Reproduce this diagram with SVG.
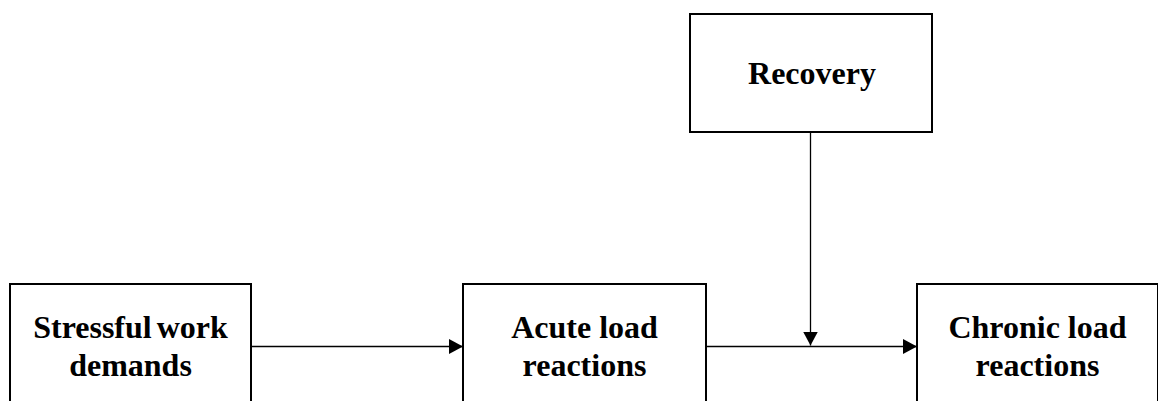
<svg xmlns="http://www.w3.org/2000/svg" width="1158" height="401" viewBox="0 0 1158 401">
  <style>
    .box { fill: #ffffff; stroke: #000000; stroke-width: 2; }
    .label { font-family: "Liberation Serif", "Times New Roman", serif; font-weight: bold; font-size: 32px; fill: #000000; text-anchor: middle; }
    .link { stroke: #000000; stroke-width: 1.3; fill: none; marker-end: url(#head); }
  </style>
  <defs>
    <marker id="head" markerUnits="userSpaceOnUse" markerWidth="16" markerHeight="16" refX="14" refY="7.5" orient="auto">
      <path d="M0,0 L14,7.5 L0,15 Z" fill="#000000"/>
    </marker>
  </defs>
  <rect width="1158" height="401" fill="#ffffff"/>

  <g id="connectors">
    <line class="link" x1="251" y1="346.5" x2="463" y2="346.5"/>
    <line class="link" x1="706" y1="346.5" x2="917" y2="346.5"/>
    <line class="link" x1="810.5" y1="133" x2="810.5" y2="345.5"/>
  </g>

  <g id="stressful-work-demands">
    <rect class="box" x="10" y="284" width="241" height="140"/>
    <text class="label" x="130.5" y="338" word-spacing="-3">Stressful work</text>
    <text class="label" x="130.5" y="376">demands</text>
  </g>

  <g id="acute-load-reactions">
    <rect class="box" x="463" y="284" width="243" height="140"/>
    <text class="label" x="584.5" y="338">Acute load</text>
    <text class="label" x="584.5" y="376">reactions</text>
  </g>

  <g id="recovery">
    <rect class="box" x="690" y="14" width="242" height="118"/>
    <text class="label" x="812" y="84">Recovery</text>
  </g>

  <g id="chronic-load-reactions">
    <rect class="box" x="917" y="284" width="241" height="140"/>
    <text class="label" x="1037.5" y="338">Chronic load</text>
    <text class="label" x="1037.5" y="376">reactions</text>
  </g>
</svg>
